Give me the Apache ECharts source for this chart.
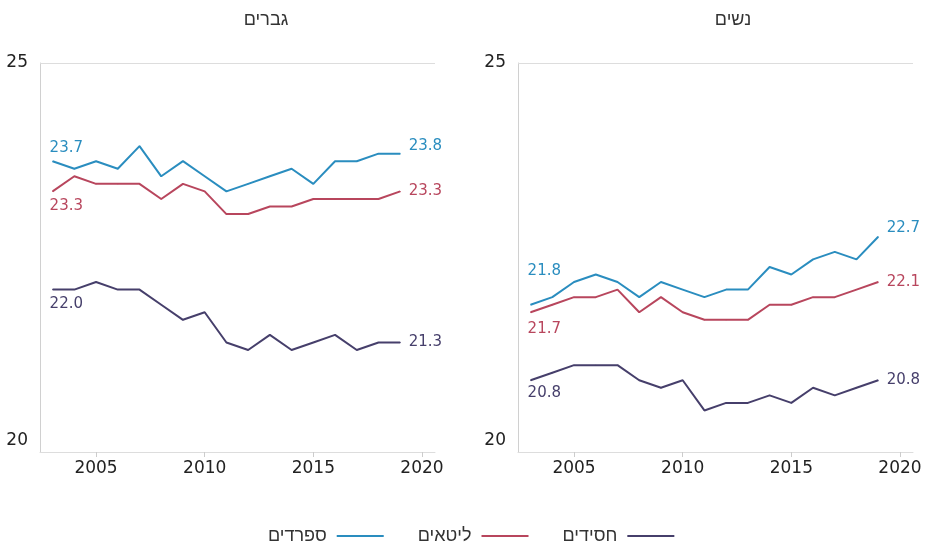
<!DOCTYPE html>
<html>
<head>
<meta charset="utf-8">
<script src="https://cdn.jsdelivr.net/npm/echarts@6/dist/echarts.min.js"></script>
<style>
html,body{margin:0;padding:0;background:#fff;}
#chart{width:930px;height:542px;}
</style>
</head>
<body>
<div id="chart"></div>
<script>
// ---- data ----
var years = [2003,2004,2005,2006,2007,2008,2009,2010,2011,2012,2013,2014,2015,2016,2017,2018,2019];
var seriesNames = ['ספרדים','ליטאים','חסידים'];
var panelTitles = ['גברים','נשים'];
var menSfaradim  = [23.7,23.6,23.7,23.6,23.9,23.5,23.7,23.5,23.3,23.4,23.5,23.6,23.4,23.7,23.7,23.8,23.8];
var menLitaim    = [23.3,23.5,23.4,23.4,23.4,23.2,23.4,23.3,23.0,23.0,23.1,23.1,23.2,23.2,23.2,23.2,23.3];
var menHasidim   = [22.0,22.0,22.1,22.0,22.0,21.8,21.6,21.7,21.3,21.2,21.4,21.2,21.3,21.4,21.2,21.3,21.3];
var womenSfaradim= [21.8,21.9,22.1,22.2,22.1,21.9,22.1,22.0,21.9,22.0,22.0,22.3,22.2,22.4,22.5,22.4,22.7];
var womenLitaim  = [21.7,21.8,21.9,21.9,22.0,21.7,21.9,21.7,21.6,21.6,21.6,21.8,21.8,21.9,21.9,22.0,22.1];
var womenHasidim = [20.8,20.9,21.0,21.0,21.0,20.8,20.7,20.8,20.4,20.5,20.5,20.6,20.5,20.7,20.6,20.7,20.8];
var xTicks = [2005,2010,2015,2020];
var yTicks = [20,25];

// ---- styling ----
var FONT = "'DejaVu Sans', 'Liberation Sans', sans-serif";
var HFONT = "'Liberation Sans', 'DejaVu Sans', sans-serif";
var colors = ['#2a8dbf','#b8465d','#463f6b'];
var labelCfg = [
  [ {sp:'top',sd:5,ey:-8}, {sp:'bottom',sd:7,ey:0}, {sp:'bottom',sd:7,ey:0} ],
  [ {sp:'top',sd:26,ey:-9}, {sp:'bottom',sd:9,ey:0}, {sp:'bottom',sd:5,ey:0} ]
];
var panels = [
  [menSfaradim, menLitaim, menHasidim],
  [womenSfaradim, womenLitaim, womenHasidim]
];
var grids = [
  {left:40, right:495, top:63, bottom:90},
  {left:518, right:17, top:63, bottom:90}
];

function fmt1(p){ return p.value[1].toFixed(1); }

function buildData(vals, color, cfg){
  return vals.map(function(v,i){
    var item = {value:[years[i], v]};
    if(i===0){
      item.label = {show:true, position:cfg.sp, distance:cfg.sd, align:'left', offset:[-3,0],
        color:color, fontSize:15, fontFamily:FONT, formatter:fmt1};
    } else if(i===vals.length-1){
      item.label = {show:true, position:'right', distance:8, offset:[0,cfg.ey],
        color:color, fontSize:15, fontFamily:FONT, formatter:fmt1};
    }
    return item;
  });
}

var xAxes = [], yAxes = [], series = [];
grids.forEach(function(g, gi){
  xAxes.push({
    type:'value', gridIndex:gi, min:2002.42, max:2020.6,
    axisLine:{show:true, lineStyle:{color:'#dddddd', width:1}},
    axisTick:{show:true, length:5, customValues:xTicks, lineStyle:{color:'#cccccc'}},
    axisLabel:{customValues:xTicks, color:'#222', fontSize:17, fontFamily:FONT, margin:8,
      formatter:function(v){ return String(v); }},
    splitLine:{show:false}
  });
  yAxes.push({
    type:'value', gridIndex:gi, min:19.85, max:25,
    axisLine:{show:true, lineStyle:{color:'#d0d0d0', width:1}},
    axisTick:{show:false},
    axisLabel:{customValues:yTicks, color:'#222', fontSize:17, fontFamily:FONT, margin:12,
      formatter:function(v){ return String(v); }},
    splitLine:{show:false}
  });
  panels[gi].forEach(function(vals, si){
    var s = {
      type:'line', name:seriesNames[si], xAxisIndex:gi, yAxisIndex:gi,
      data: buildData(vals, colors[si], labelCfg[gi][si]),
      symbol:'circle', symbolSize:1, showSymbol:true,
      lineStyle:{color:colors[si], width:2},
      itemStyle:{color:colors[si]},
      emphasis:{disabled:true}, silent:true, animation:false
    };
    if(si===0){
      s.markLine = {silent:true, symbol:'none', animation:false,
        label:{show:false}, lineStyle:{color:'#dddddd', type:'solid', width:1},
        data:[{yAxis:25}]};
    }
    series.push(s);
  });
});

var option = {
  backgroundColor:'#fff',
  animation:false,
  title:[
    {text:panelTitles[0], left:261, top:6, textAlign:'center',
     textStyle:{fontSize:18, fontWeight:'normal', color:'#333', fontFamily:HFONT}},
    {text:panelTitles[1], left:728, top:6, textAlign:'center',
     textStyle:{fontSize:18, fontWeight:'normal', color:'#333', fontFamily:HFONT}}
  ],
  legend:{
    data:seriesNames, left:263, top:522, align:'right', icon:'rect',
    itemWidth:47, itemHeight:2, itemGap:34, selectedMode:false,
    textStyle:{fontSize:18, color:'#333', fontFamily:HFONT, padding:[0,5,0,0]}
  },
  grid:grids,
  xAxis:xAxes,
  yAxis:yAxes,
  series:series
};
var chart = echarts.init(document.getElementById('chart'), null, {renderer:'canvas'});
chart.setOption(option);
</script>
</body>
</html>
